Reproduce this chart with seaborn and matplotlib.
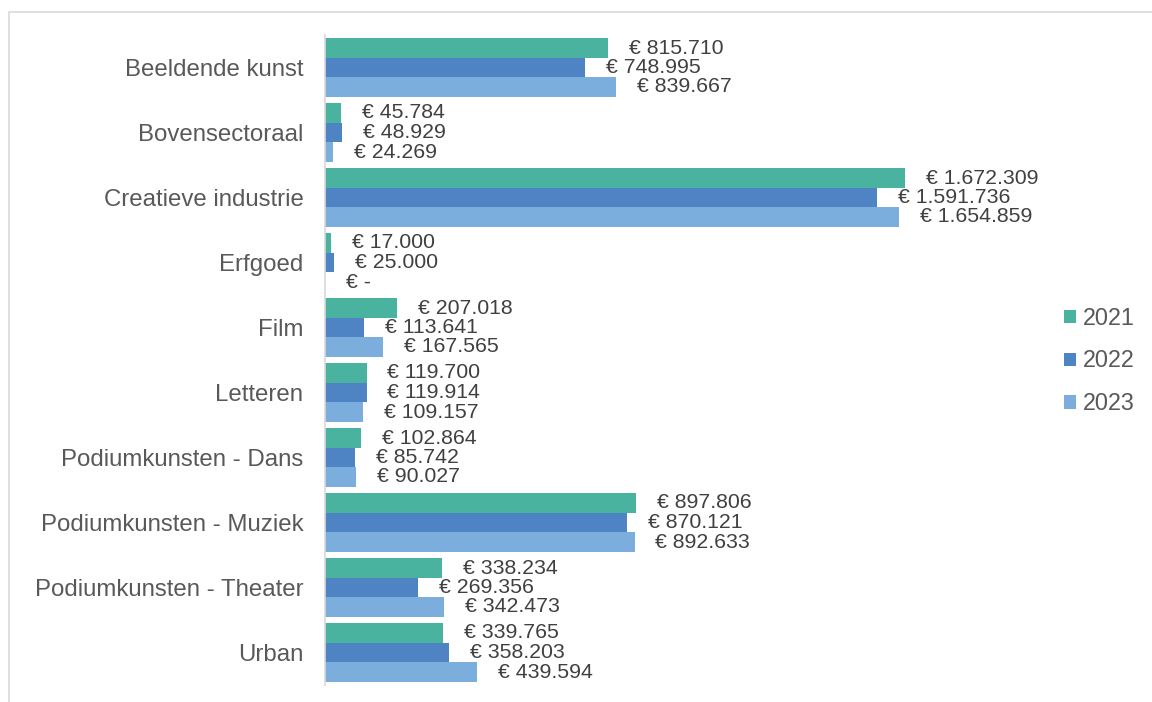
import numpy as np
import pandas as pd
import matplotlib.pyplot as plt
import seaborn as sns
from matplotlib.patches import Rectangle

categories = ['Beeldende kunst', 'Bovensectoraal', 'Creatieve industrie', 'Erfgoed', 'Film',
              'Letteren', 'Podiumkunsten - Dans', 'Podiumkunsten - Muziek',
              'Podiumkunsten - Theater', 'Urban']
years = ['2021', '2022', '2023']
v2021 = [815710, 45784, 1672309, 17000, 207018, 119700, 102864, 897806, 338234, 339765]
v2022 = [748995, 48929, 1591736, 25000, 113641, 119914, 85742, 870121, 269356, 358203]
v2023 = [839667, 24269, 1654859, 0, 167565, 109157, 90027, 892633, 342473, 439594]
colors = ['#4AB3A0', '#4F84C4', '#7BAEDD']


def euro(v):
    if v == 0:
        return '€ -'
    return '€ ' + f'{v:,}'.replace(',', '.')


df = pd.DataFrame({
    'categorie': categories * 3,
    'jaar': [y for y in years for _ in categories],
    'bedrag': v2021 + v2022 + v2023,
})

sns.set_style('white')
plt.rcParams['font.family'] = ['Liberation Sans', 'DejaVu Sans']

fig = plt.figure(figsize=(11.52, 7.02), dpi=100)
ax = fig.add_axes([325 / 1152, 1 - 685 / 702, 715 / 1152, 650 / 702])

sns.barplot(data=df, x='bedrag', y='categorie', hue='jaar', orient='h',
            palette=colors, width=0.9, gap=0, linewidth=0, saturation=1,
            order=categories, hue_order=years, ax=ax)

for cont in ax.containers:
    for bar in cont:
        v = bar.get_width()
        ax.annotate(euro(int(round(v))), (v, bar.get_y() + bar.get_height() / 2),
                    xytext=(15, 0), textcoords='offset points',
                    ha='left', va='center', fontsize=15.3, color='#404040')

ax.set_xlim(0, 2061560)
ax.set_xlabel('')
ax.set_ylabel('')
ax.set_xticks([])
ax.tick_params(axis='y', length=0, pad=15.5, labelsize=17.3, labelcolor='#595959')
for s in ['top', 'right', 'bottom']:
    ax.spines[s].set_visible(False)
ax.spines['left'].set_color('#D9D9D9')
ax.spines['left'].set_linewidth(1.2)

ax.legend(loc='center left', bbox_to_anchor=(1064 / 1152, 1 - 361 / 702),
          bbox_transform=fig.transFigure, frameon=False, fontsize=16.8,
          labelcolor='#595959', handlelength=0.5, handleheight=0.5,
          handletextpad=0.3, labelspacing=0.85, borderaxespad=0, borderpad=0)

fig.patches.append(Rectangle((8.5 / 1152, -0.05), 1.2, 1.05 - 12 / 702,
                             transform=fig.transFigure, fill=False,
                             edgecolor='#D9D9D9', linewidth=1.2))

fig.savefig('out.png', dpi=100)
